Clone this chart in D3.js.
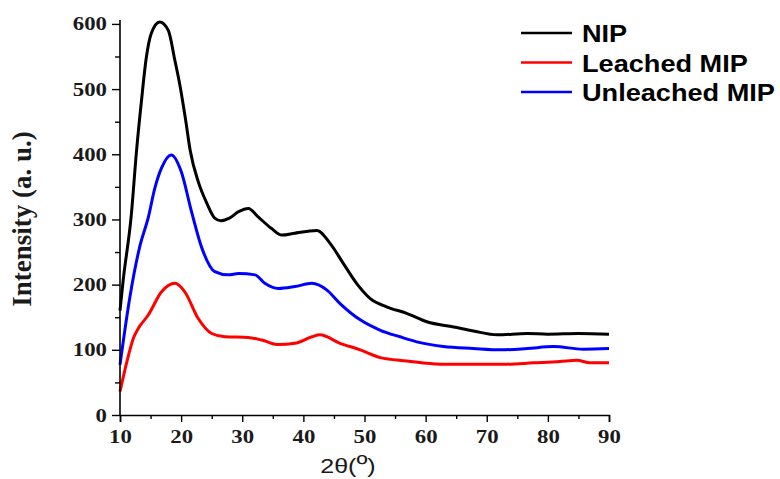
<!DOCTYPE html>
<html>
<head>
<meta charset="utf-8">
<script src="https://cdn.jsdelivr.net/npm/d3@7"></script>
<style>
body { margin: 0; background: #fff; }
svg { display: block; }
</style>
</head>
<body>
<div id="chart"></div>
<script>
// series (2theta, intensity)
var nipX = [10, 10.5, 11.85, 12.7, 13.5, 14.3, 15.1, 16.5, 17.9, 19.0, 19.8, 20.7, 21.5, 22.8, 24.2, 25.5, 26.5, 27.9, 29.4, 31.0, 32.6, 34.8, 36.5, 38.6, 40.8, 42.2, 44.4, 46.5, 48.7, 50.9, 53.6, 56.9, 60.2, 64.6, 67.8, 71.7, 76.6, 80, 85, 90];
var nipY = [160, 205, 307, 405, 481, 548, 585, 603, 590, 543, 506, 455, 405, 358, 325, 302, 298, 302, 312, 317, 304, 286, 276, 279, 282, 283, 263, 233, 202, 179, 166, 156, 143, 135, 129, 123, 125, 124, 125, 124];

var leachedX = [10, 11.4, 12.2, 13.0, 14.6, 16.8, 19.0, 20.6, 22.8, 25.0, 27.2, 31.0, 33.2, 35.9, 38.6, 41.4, 42.7, 46.0, 49.3, 52.6, 56.9, 62.4, 67.8, 73.3, 77.6, 82.0, 84.7, 86.9, 90];
var leachedY = [36, 92, 118, 133, 153, 189, 202, 189, 148, 125, 120, 119, 115, 108, 110, 120, 123, 110, 100, 88, 83, 78, 78, 78, 80, 82, 84, 80, 80];

var unleachedX = [10, 11.6, 13.3, 14.6, 15.7, 16.8, 18.4, 20.0, 21.7, 23.4, 25.5, 27.7, 29.4, 32.1, 33.7, 35.9, 38.6, 41.4, 43.8, 46.0, 49.3, 52.6, 55.8, 59.1, 62.9, 67.8, 72.2, 76.6, 80.9, 85.8, 90];
var unleachedY = [77, 180, 261, 302, 348, 379, 399, 374, 312, 256, 220, 215, 217, 215, 202, 194, 197, 202, 192, 171, 146, 130, 120, 111, 105, 102, 100, 102, 105, 101, 102];

var seriesNames = ["NIP", "Leached MIP", "Unleached MIP"];
var seriesColors = ["#000000", "#ff0000", "#0000ff"];

var xTicks = [10, 20, 30, 40, 50, 60, 70, 80, 90];
var xMinor = [15, 25, 35, 45, 55, 65, 75, 85];
var yTicks = [0, 100, 200, 300, 400, 500, 600];
var yMinor = [50, 150, 250, 350, 450, 550];

var width = 780, height = 479;
var svg = d3.select("#chart").append("svg")
    .attr("width", width)
    .attr("height", height);

var x = d3.scaleLinear().domain([10, 90]).range([120, 609]);
var y = d3.scaleLinear().domain([0, 606]).range([415, 20]);

var labelColor = "#1a1a1a";

// curves
var series = [
    d3.zip(nipX, nipY),
    d3.zip(leachedX, leachedY),
    d3.zip(unleachedX, unleachedY)
];
var line = d3.line()
    .x(function(d) { return x(d[0]); })
    .y(function(d) { return y(d[1]); })
    .curve(d3.curveMonotoneX);

svg.selectAll("path.curve")
    .data(series)
    .enter().append("path")
    .attr("class", "curve")
    .attr("d", line)
    .attr("fill", "none")
    .attr("stroke", function(d, i) { return seriesColors[i]; })
    .attr("stroke-width", 3)
    .attr("stroke-linejoin", "round");

// x axis
var xAxis = svg.append("g").attr("transform", "translate(0," + y(0) + ")")
    .call(d3.axisBottom(x).tickValues(xTicks).tickSize(7).tickPadding(3).tickFormat(d3.format("d")));
var xAxisMinor = svg.append("g").attr("transform", "translate(0," + y(0) + ")")
    .call(d3.axisBottom(x).tickValues(xMinor).tickSize(4).tickFormat(""));

// y axis
var yAxis = svg.append("g").attr("transform", "translate(" + x(10) + ",0)")
    .call(d3.axisLeft(y).tickValues(yTicks).tickSize(8).tickPadding(5).tickFormat(d3.format("d")));
var yAxisMinor = svg.append("g").attr("transform", "translate(" + x(10) + ",0)")
    .call(d3.axisLeft(y).tickValues(yMinor).tickSize(5).tickFormat(""));

[xAxis, xAxisMinor, yAxis, yAxisMinor].forEach(function(g) {
    g.select(".domain").attr("stroke", "#000").attr("stroke-width", 1.6);
    g.selectAll(".tick line").attr("stroke", "#000").attr("stroke-width", 1.4);
});
xAxisMinor.select(".domain").remove();
yAxisMinor.select(".domain").remove();
yAxis.select(".domain").attr("d", "M0," + y(0) + "V" + y(606));

// tick labels, bold serif and a bit wide
xAxis.selectAll(".tick text")
    .attr("fill", labelColor)
    .style("font-family", "'Liberation Serif', 'Times New Roman', serif")
    .style("font-weight", "bold")
    .style("font-size", "19px")
    .attr("y", 0).attr("dy", 0)
    .attr("transform", "translate(0,28) scale(1.2,1)");

yAxis.selectAll(".tick text")
    .attr("fill", labelColor)
    .style("font-family", "'Liberation Serif', 'Times New Roman', serif")
    .style("font-weight", "bold")
    .style("font-size", "19px")
    .attr("x", 0).attr("dy", 0)
    .attr("transform", "translate(-13,6) scale(1.2,1)");

// axis titles
svg.append("text")
    .attr("transform", "translate(31,219) rotate(-90)")
    .attr("text-anchor", "middle")
    .attr("fill", labelColor)
    .style("font-family", "'Liberation Serif', 'Times New Roman', serif")
    .style("font-weight", "bold")
    .style("font-size", "27px")
    .text("Intensity (a. u.)");

var xTitle = svg.append("text")
    .attr("transform", "translate(348,473) scale(1.25,1)")
    .attr("text-anchor", "middle")
    .attr("fill", labelColor)
    .style("font-family", "'Liberation Sans', Arial, sans-serif")
    .style("font-size", "20px");
xTitle.append("tspan").text("2θ(");
xTitle.append("tspan").style("font-size", "24px").attr("dy", -1).text("º");
xTitle.append("tspan").attr("dy", 1).text(")");

// legend
var legend = svg.selectAll("g.legend")
    .data(seriesNames)
    .enter().append("g")
    .attr("class", "legend")
    .attr("transform", function(d, i) { return "translate(521," + (33 + i * 29.5) + ")"; });

legend.append("line")
    .attr("x1", 0).attr("x2", 51)
    .attr("y1", 0).attr("y2", 0)
    .attr("stroke", function(d, i) { return seriesColors[i]; })
    .attr("stroke-width", 2.4);

legend.append("text")
    .attr("transform", "translate(61,9) scale(1.18,1)")
    .attr("fill", "#000")
    .style("font-family", "'Liberation Sans', Arial, sans-serif")
    .style("font-weight", "bold")
    .style("font-size", "23px")
    .text(function(d) { return d; });
</script>
</body>
</html>
